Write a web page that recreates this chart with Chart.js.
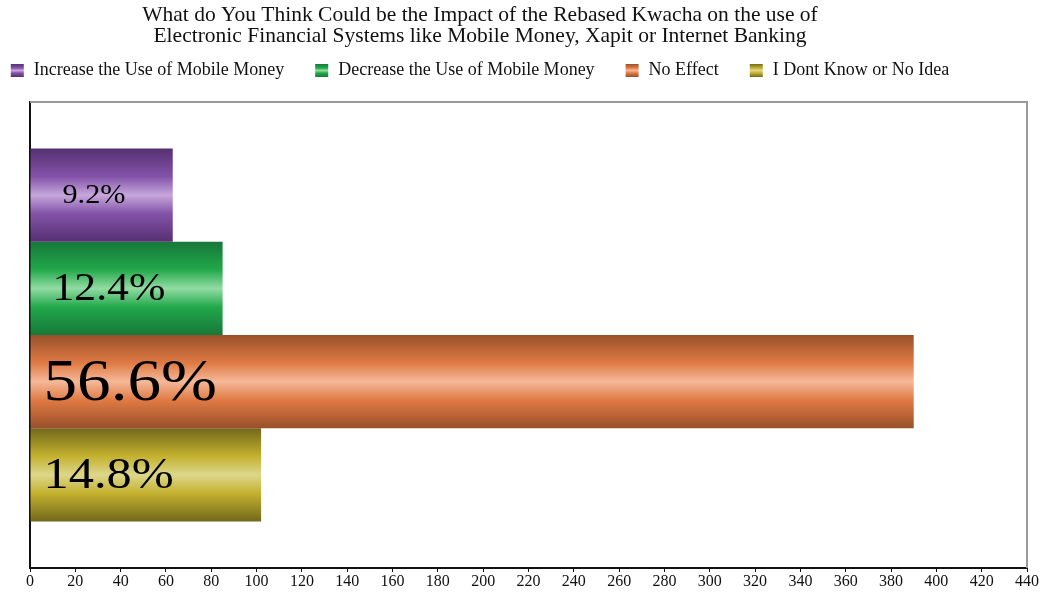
<!DOCTYPE html>
<html>
<head>
<meta charset="utf-8">
<script src="https://cdn.jsdelivr.net/npm/chart.js@4/dist/chart.umd.min.js"></script>
<style>
html,body{margin:0;padding:0;background:#fff;}
#wrap{width:1042px;height:592px;}
</style>
</head>
<body>
<div id="wrap"><canvas id="impactChart"></canvas></div>
<script>
const titleLines = [
    'What do You Think Could be the Impact of the Rebased Kwacha on the use of',
    'Electronic Financial Systems like Mobile Money, Xapit or Internet Banking'
];
const categories = [''];
const seriesNames = ['Increase the Use of Mobile Money', 'Decrease the Use of Mobile Money', 'No Effect', 'I Dont Know or No Idea'];
const responses = [63, 85, 390, 102];
const shares = [9.2, 12.4, 56.6, 14.8];
const xMin = 0, xMax = 440, xStep = 20;

// edge / body / highlight for the tube look
const shades = [
    ['#553072', '#8352a8', '#c6a7dc'],
    ['#16783a', '#22a84a', '#92dca4'],
    ['#98502a', '#e07a44', '#f5b898'],
    ['#72681c', '#c3b12e', '#ddd78c']
];
const labelSizes = [27, 39, 60, 45];
const labelInset = [32, 22, 13, 13];

const FONT = '"Liberation Serif", "Times New Roman", serif';
const CAT_PCT = 0.8;
const HEAD_X = 480;

function tube(ctx, top, bottom, s){
    const g = ctx.createLinearGradient(0, top, 0, bottom);
    g.addColorStop(0, s[0]);
    g.addColorStop(0.3, s[1]);
    g.addColorStop(0.5, s[2]);
    g.addColorStop(0.7, s[1]);
    g.addColorStop(1, s[0]);
    return g;
}

// gradient follows the slot each dataset gets inside the category band
function barFill(c){
    const chart = c.chart, y = chart.scales.y;
    const s = shades[c.datasetIndex];
    if(!y || !chart.chartArea) return s[1];
    const band = (y.bottom - y.top) / categories.length * CAT_PCT;
    const h = band / chart.data.datasets.length;
    const top = y.getPixelForValue(c.dataIndex) - band / 2 + c.datasetIndex * h;
    return tube(chart.ctx, top, top + h, s);
}

const header = {
    id: 'header',
    afterDraw(chart){
        const ctx = chart.ctx;
        ctx.save();
        ctx.fillStyle = '#111';
        ctx.textAlign = 'center';
        ctx.textBaseline = 'middle';
        ctx.font = '21.5px ' + FONT;
        titleLines.forEach((t, i) => ctx.fillText(t, HEAD_X, 15 + i * 21));

        ctx.font = '18px ' + FONT;
        const gap = 31;
        const widths = seriesNames.map(n => 23 + ctx.measureText(n).width);
        const total = widths.reduce((a, b) => a + b, 0) + gap * (widths.length - 1);
        let x = HEAD_X - total / 2;
        ctx.textAlign = 'left';
        seriesNames.forEach((n, i) => {
            ctx.fillStyle = tube(ctx, 64, 77, shades[i]);
            ctx.fillRect(x, 64, 13, 13);
            ctx.fillStyle = '#111';
            ctx.fillText(n, x + 23, 70);
            x += widths[i] + gap;
        });
        ctx.restore();
    }
};

const shareLabels = {
    id: 'shareLabels',
    afterDatasetsDraw(chart){
        const ctx = chart.ctx;
        ctx.save();
        ctx.fillStyle = '#000';
        ctx.textAlign = 'left';
        ctx.textBaseline = 'alphabetic';
        chart.data.datasets.forEach((ds, i) => {
            const bar = chart.getDatasetMeta(i).data[0];
            const size = labelSizes[i];
            ctx.save();
            ctx.translate(bar.base + labelInset[i], bar.y + size * 0.3);
            ctx.scale(1.12, 1);
            ctx.font = size + 'px ' + FONT;
            ctx.fillText(shares[i].toFixed(1) + '%', 0, 0);
            ctx.restore();
        });
        ctx.restore();
    }
};

const frame = {
    id: 'frame',
    afterDraw(chart){
        const {ctx, chartArea: a} = chart;
        ctx.save();
        ctx.strokeStyle = '#9a9a9a';
        ctx.lineWidth = 2;
        ctx.beginPath();
        ctx.moveTo(a.left, a.top);
        ctx.lineTo(a.right, a.top);
        ctx.lineTo(a.right, a.bottom);
        ctx.stroke();
        ctx.restore();
    }
};

new Chart(document.getElementById('impactChart'), {
    type: 'bar',
    data: {
        labels: categories,
        datasets: seriesNames.map((name, i) => ({
            label: name,
            data: [responses[i]],
            backgroundColor: barFill,
            borderWidth: 0,
            categoryPercentage: CAT_PCT,
            barPercentage: 1
        }))
    },
    options: {
        indexAxis: 'y',
        responsive: true,
        maintainAspectRatio: false,
        animation: false,
        layout: {padding: {top: 102, left: 22, right: 15, bottom: 0}},
        plugins: {legend: {display: false}, title: {display: false}, tooltip: {enabled: false}},
        scales: {
            x: {
                min: xMin, max: xMax,
                ticks: {stepSize: xStep, autoSkip: false, maxRotation: 0, color: '#111', padding: 2, font: {family: FONT, size: 16, lineHeight: 1}},
                grid: {drawOnChartArea: false, tickLength: 4, color: '#111'},
                border: {color: '#111', width: 2}
            },
            y: {
                ticks: {display: false},
                grid: {display: false},
                border: {color: '#111', width: 2}
            }
        }
    },
    plugins: [shareLabels, header, frame]
});
</script>
</body>
</html>
